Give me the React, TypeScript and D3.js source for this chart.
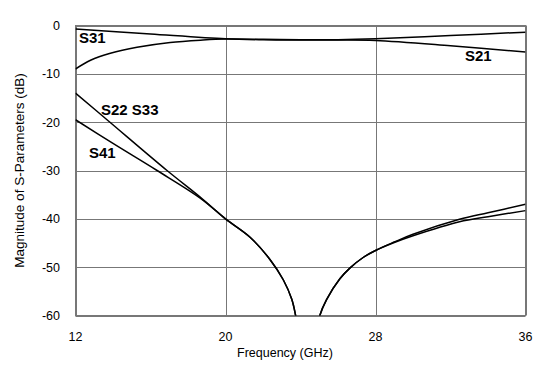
import React from "react";
import * as d3 from "d3";

const xTicks = [12, 20, 28, 36];
const yTicks = [0, -10, -20, -30, -40, -50, -60];

// S31: starts near 0 dB
const s31F = [12, 16, 20, 22, 24, 26, 28, 32, 36];
const s31DB = [-0.7, -1.75, -2.75, -2.95, -3.0, -3.0, -3.1, -4.2, -5.5];
// S21: starts near -9 dB
const s21F = [12, 12.8, 13.86, 15.28, 17.05, 18.8, 20, 22, 24, 26, 28, 32, 36];
const s21DB = [-9.0, -7.2, -5.75, -4.5, -3.5, -3.0, -2.8, -2.85, -2.95, -2.95, -2.76, -2.07, -1.38];

// S22 / S33 (null = break at the notch)
const s22F = [12, 13.68, 16.88, 18.65, 20, 21.31, 22.37, 23.08, 23.53, 23.74, 23.92, 24.4, 24.85, 25.03, 25.39, 26.1, 26.63, 27.34, 28, 29, 30, 32.48, 34, 36];
const s22DB = [-14, -19.5, -30, -35.5, -40, -43.8, -48.4, -52.6, -56.6, -60, -64, null, -64, -60, -56.7, -52.4, -50.2, -48.0, -46.55, -44.8, -43.2, -40.1, -38.75, -37.0];
// S41
const s41F = [12, 14, 16.35, 18.65, 20, 21.31, 22.37, 23.08, 23.53, 23.74, 23.92, 24.4, 24.85, 25.03, 25.39, 26.1, 26.63, 27.34, 28, 29, 30, 32.48, 34, 36];
const s41DB = [-19.5, -24.4, -30, -35.7, -40, -43.8, -48.4, -52.6, -56.6, -60, -64, null, -64, -60, -56.7, -52.4, -50.2, -48.0, -46.55, -44.9, -43.5, -40.6, -39.55, -38.3];

const series = [
  { f: s31F, v: s31DB },
  { f: s21F, v: s21DB },
  { f: s22F, v: s22DB },
  { f: s41F, v: s41DB },
];

const labels = [
  { text: "S31", x: 79, y: 43 },
  { text: "S21", x: 465, y: 61 },
  { text: "S22 S33", x: 101, y: 115 },
  { text: "S41", x: 89, y: 158 },
];

const W = 550, H = 377;
const L = 75.5, R = 525.5, T = 25.5, B = 315.5;

export default function App() {
  const x = d3.scaleLinear().domain([12, 36]).range([L, R]);
  const y = d3.scaleLinear().domain([0, -60]).range([T, B]);
  const line = d3
    .line<[number, number | null]>()
    .defined((d) => d[1] !== null)
    .x((d) => x(d[0]))
    .y((d) => y(d[1] as number))
    .curve(d3.curveCatmullRom.alpha(0.5));
  const font = "'Liberation Sans', Arial, sans-serif";
  return (
    <svg width={W} height={H} style={{ position: "absolute", left: 0, top: 0, background: "#fff" }}>
      <defs>
        <clipPath id="plot">
          <rect x={L} y={T} width={R - L} height={B - T} />
        </clipPath>
      </defs>
      {yTicks.map((t) => (
        <line key={"gy" + t} x1={L} x2={R} y1={Math.round(y(t)) + 0.5} y2={Math.round(y(t)) + 0.5} stroke="#777" strokeWidth={1} />
      ))}
      {xTicks.map((t) => (
        <line key={"gx" + t} y1={T} y2={B} x1={Math.round(x(t)) + 0.5} x2={Math.round(x(t)) + 0.5} stroke="#777" strokeWidth={1} />
      ))}
      <rect x={L} y={T} width={R - L} height={B - T} fill="none" stroke="#777" strokeWidth={1} />
      <g clipPath="url(#plot)">
        {series.map((s, i) => (
          <path
            key={i}
            d={line(s.f.map((f, j) => [f, s.v[j]] as [number, number | null])) || ""}
            fill="none"
            stroke="#000"
            strokeWidth={1.5}
          />
        ))}
      </g>
      {yTicks.map((t) => (
        <text key={"ty" + t} x={60} y={y(t) + 4.5} textAnchor="end" fontFamily={font} fontSize={12.5} fill="#000">
          {t}
        </text>
      ))}
      {xTicks.map((t) => (
        <text key={"tx" + t} x={x(t)} y={341} textAnchor="middle" fontFamily={font} fontSize={12.5} fill="#000">
          {t}
        </text>
      ))}
      <text x={285} y={357} textAnchor="middle" fontFamily={font} fontSize={12.5} fill="#000">
        Frequency (GHz)
      </text>
      <text
        transform={`translate(24, ${(T + B) / 2}) rotate(-90)`}
        textAnchor="middle"
        fontFamily={font}
        fontSize={13.5}
        fill="#000"
      >
        Magnitude of S-Parameters (dB)
      </text>
      {labels.map((l) => (
        <text key={l.text} x={l.x} y={l.y} fontFamily={font} fontSize={15} fontWeight="bold" fill="#000">
          {l.text}
        </text>
      ))}
    </svg>
  );
}
